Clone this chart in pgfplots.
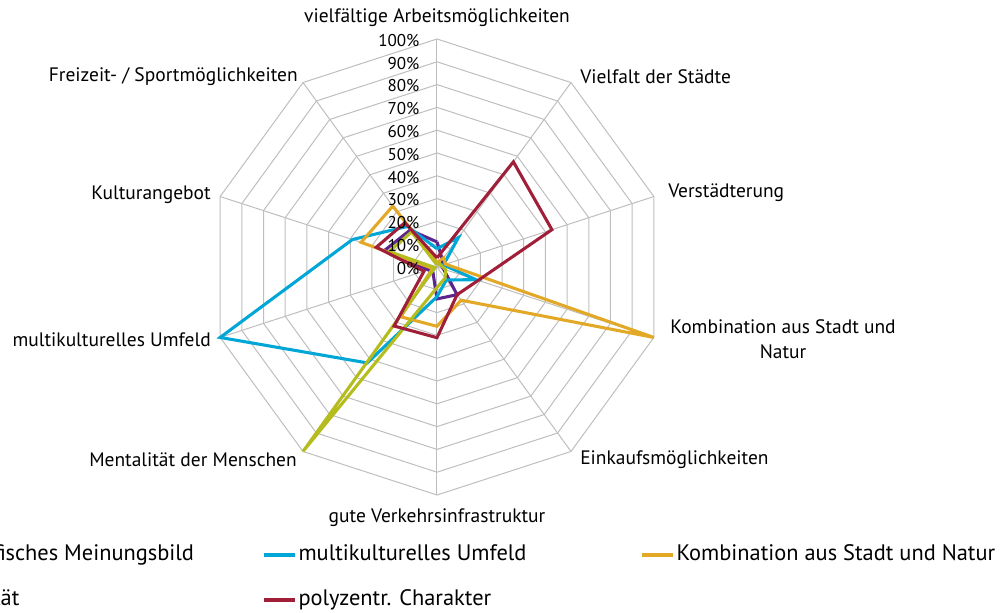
\documentclass[border=0pt]{standalone}
\usepackage{pgfplots}
\pgfplotsset{compat=1.18}
\usepgfplotslibrary{polar}
\usepackage{fontspec}
\setmainfont{PT Sans}

\definecolor{cpurple}{RGB}{92,36,140}
\definecolor{cblue}{RGB}{0,166,214}
\definecolor{corange}{RGB}{227,168,38}
\definecolor{colive}{RGB}{181,189,30}
\definecolor{cred}{RGB}{160,30,55}
\definecolor{gridgray}{RGB}{190,190,190}

\begin{document}
\begin{tikzpicture}
\begin{polaraxis}[
  hide axis, clip=false,
  scale only axis, width=342pt, height=342pt,
  ymin=0, ymax=100, xmin=0, xmax=360,
  legend columns=3,
  legend style={at={(axis description cs:-0.713,-0.181)}, anchor=west,
    draw=none, fill=none, inner sep=0pt, column sep=0pt, row sep=20pt,
    font=\fontsize{16.8}{19}\selectfont,
    nodes={inner sep=0pt, text height=11pt, text depth=3pt}},
  legend image code/.code={\draw[#1, line width=2.8pt] (0pt,0pt) -- (23pt,0pt);},
  every axis plot/.append style={line width=2.3pt, line join=miter, mark=none},
]
% grid
\pgfplotsinvokeforeach{10,20,30,40,50,60,70,80,90,100}{
  \draw[gridgray, line width=0.75pt] (axis cs:90,#1) -- (axis cs:54,#1) -- (axis cs:18,#1) -- (axis cs:-18,#1) -- (axis cs:-54,#1) -- (axis cs:-90,#1) -- (axis cs:-126,#1) -- (axis cs:-162,#1) -- (axis cs:162,#1) -- (axis cs:126,#1) -- cycle;
}
\pgfplotsinvokeforeach{90,54,18,-18,-54,-90,-126,-162,162,126}{
  \draw[gridgray, line width=0.75pt] (axis cs:0,0) -- (axis cs:#1,100);
}
\coordinate (c) at (axis cs:0,0);

% data: angle, value (%)
\addplot[cpurple] coordinates {(90,11) (54,4) (18,2) (-18,3) (-54,15) (-90,14) (-126,3) (-162,4) (162,24) (126,20) (90,11)};
\addlegendentry{\makebox[257.7pt][l]{\hspace{1.5pt}unspezifisches Meinungsbild}}
\addplot[cblue] coordinates {(90,8) (54,16) (18,3) (-18,18) (-54,7) (-90,13) (-126,52) (-162,100) (162,39) (126,22) (90,8)};
\addlegendentry{\makebox[257.7pt][l]{\hspace{1.5pt}multikulturelles Umfeld}}
\addplot[corange] coordinates {(90,2) (54,5) (18,4) (-18,100) (-54,18) (-90,26) (-126,27) (-162,2) (162,35) (126,33) (90,2)};
\addlegendentry{\makebox[257.7pt][l]{\hspace{1.5pt}Kombination aus Stadt und Natur}}
\addplot[colive] coordinates {(90,1) (54,2) (18,2) (-18,4) (-54,6) (-90,9) (-126,100) (-162,1) (162,22) (126,19) (90,1)};
\addlegendentry{\makebox[257.7pt][l]{\hspace{1.5pt}Mentalität}}
\addplot[cred] coordinates {(90,4) (54,57) (18,53) (-18,19) (-54,15) (-90,31) (-126,32) (-162,6) (162,28) (126,24) (90,4)};
\addlegendentry{\makebox[257.7pt][l]{\hspace{1.5pt}polyzentr. Charakter}}

% radial tick labels
\pgfplotsinvokeforeach{0,10,20,30,40,50,60,70,80,90,100}{
  \node[anchor=east, inner sep=0pt, font=\fontsize{12.8}{14}\selectfont, xshift=-13pt, yshift=-1pt] at (axis cs:90,#1) {#1\%};
}
% category labels
\begin{scope}[every node/.style={inner sep=0pt, font=\fontsize{14.6}{18.75}\selectfont}]
\node[anchor=center, yshift=186.75pt] at (axis cs:0,0) {vielfältige Arbeitsmöglichkeiten};
\node[anchor=west, xshift=107.25pt, yshift=142.5pt] at (axis cs:0,0) {Vielfalt der Städte};
\node[anchor=west, xshift=173.25pt, yshift=55.5pt] at (axis cs:0,0) {Verstädterung};
\node[anchor=center, align=center, xshift=259.5pt, yshift=-54.4pt] at (axis cs:0,0) {Kombination aus Stadt und\\Natur};
\node[anchor=west, xshift=107.25pt, yshift=-144.75pt] at (axis cs:0,0) {Einkaufsmöglichkeiten};
\node[anchor=center, yshift=-188.25pt] at (axis cs:0,0) {gute Verkehrsinfrastruktur};
\node[anchor=east, xshift=-105pt, yshift=-144.75pt] at (axis cs:0,0) {Mentalität der Menschen};
\node[anchor=east, xshift=-169.5pt, yshift=-54.75pt] at (axis cs:0,0) {multikulturelles Umfeld};
\node[anchor=east, xshift=-169.5pt, yshift=54pt] at (axis cs:0,0) {Kulturangebot};
\node[anchor=east, xshift=-104.25pt, yshift=142.5pt] at (axis cs:0,0) {Freizeit- / Sportmöglichkeiten};
\end{scope}
\end{polaraxis}
\pgfresetboundingbox
\path[use as bounding box] (c) ++(-327.75pt,-259.5pt) rectangle ++(754.5pt,459.75pt);
\end{tikzpicture}
\end{document}
